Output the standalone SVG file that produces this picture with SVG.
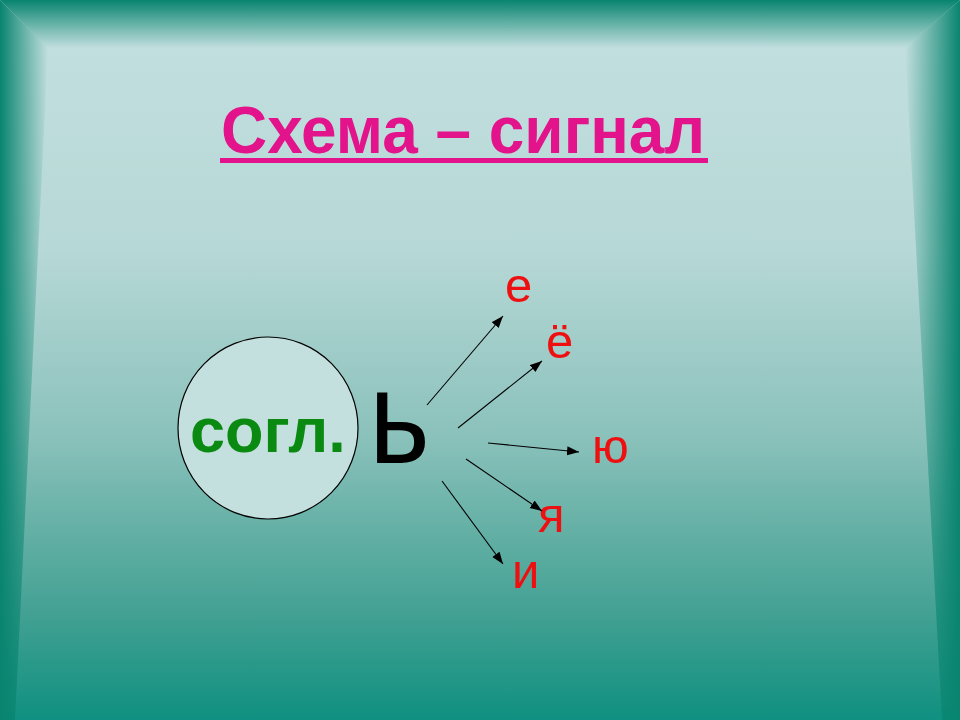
<svg xmlns="http://www.w3.org/2000/svg" width="960" height="720" viewBox="0 0 960 720">
  <defs>
    <linearGradient id="bg" x1="0" y1="0" x2="0" y2="1">
      <stop offset="0" stop-color="#c4e0e0"/>
      <stop offset="0.35" stop-color="#b6d8d6"/>
      <stop offset="0.6" stop-color="#8cc2bc"/>
      <stop offset="0.85" stop-color="#43a193"/>
      <stop offset="1" stop-color="#0f9080"/>
    </linearGradient>
    <linearGradient id="topB" x1="0" y1="0" x2="0" y2="1">
      <stop offset="0" stop-color="#08846f" stop-opacity="1"/>
      <stop offset="1" stop-color="#08846f" stop-opacity="0"/>
    </linearGradient>
    <linearGradient id="leftB" x1="0" y1="0" x2="1" y2="0">
      <stop offset="0" stop-color="#08846f" stop-opacity="1"/>
      <stop offset="1" stop-color="#08846f" stop-opacity="0"/>
    </linearGradient>
    <linearGradient id="rightB" x1="1" y1="0" x2="0" y2="0">
      <stop offset="0" stop-color="#08846f" stop-opacity="1"/>
      <stop offset="1" stop-color="#08846f" stop-opacity="0"/>
    </linearGradient>
    <marker id="ah" markerUnits="userSpaceOnUse" markerWidth="13" markerHeight="10" refX="12" refY="4.5" orient="auto">
      <path d="M0,0 L12,4.5 L0,9 Z" fill="#000"/>
    </marker>
    <style>
      .title { font-family: "Liberation Sans", Arial, sans-serif; font-weight: bold; font-size: 67px; fill: #e2138b; }
      .cons { font-family: "Liberation Sans", Arial, sans-serif; font-weight: bold; font-size: 63px; fill: #0b8a12; }
      .soft { font-family: "Liberation Sans", Arial, sans-serif; font-size: 134px; fill: #000; }
      .vow { font-family: "Liberation Sans", Arial, sans-serif; font-size: 49px; fill: #ee1010; }
      .conn line { stroke: #000; stroke-width: 1.1; marker-end: url(#ah); }
    </style>
  </defs>

  <!-- background -->
  <rect x="0" y="0" width="960" height="720" fill="url(#bg)"/>
  <polygon points="0,0 960,0 905,48 48,48" fill="url(#topB)"/>
  <polygon points="0,0 48,48 15,720 0,720" fill="url(#leftB)"/>
  <polygon points="960,0 905,48 942,720 960,720" fill="url(#rightB)"/>

  <g id="title">
    <text class="title" x="221" y="153" textLength="484" lengthAdjust="spacingAndGlyphs">Схема – сигнал</text>
    <rect x="220" y="158" width="488" height="5" fill="#e2138b"/>
  </g>

  <g id="consonant">
    <ellipse cx="268" cy="428" rx="90" ry="91" fill="#c4e0de" stroke="#000" stroke-width="1.2"/>
    <text class="cons" x="190" y="452">согл.</text>
  </g>

  <g id="soft-sign">
    <text class="soft" transform="translate(369,463) scale(0.87,1)">ь</text>
  </g>

  <g id="vowel-e"><text class="vow" x="505" y="302">е</text></g>
  <g id="vowel-yo"><text class="vow" x="546" y="358">ё</text></g>
  <g id="vowel-yu"><text class="vow" x="592" y="463">ю</text></g>
  <g id="vowel-ya"><text class="vow" x="538" y="532">я</text></g>
  <g id="vowel-i"><text class="vow" x="512" y="588">и</text></g>

  <g class="conn" id="connectors">
    <line x1="427" y1="405" x2="503" y2="316"/>
    <line x1="458" y1="428" x2="542" y2="361"/>
    <line x1="488" y1="443" x2="579" y2="452"/>
    <line x1="466" y1="459" x2="542" y2="511"/>
    <line x1="442" y1="481" x2="503" y2="564"/>
  </g>
</svg>
